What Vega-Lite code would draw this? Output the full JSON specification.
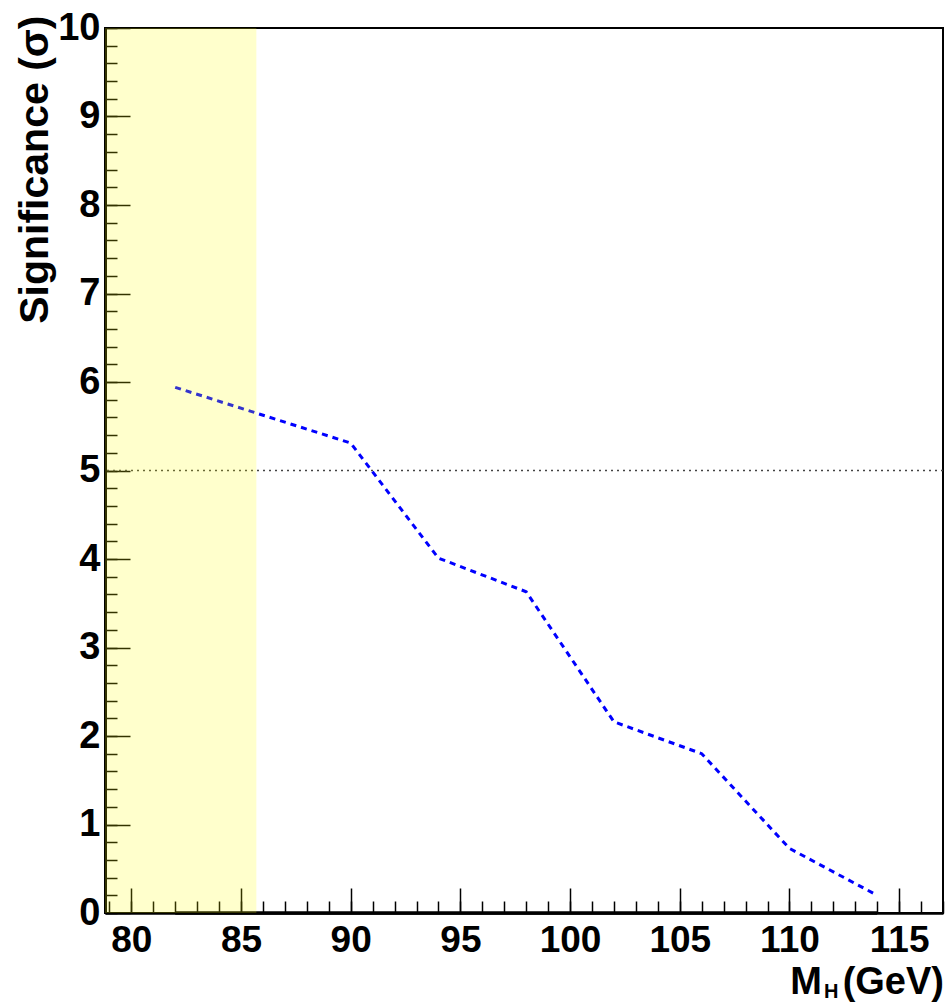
{
  "$schema": "https://vega.github.io/schema/vega-lite/v6.json",
  "width": 838,
  "height": 885,
  "autosize": "none",
  "padding": {"left": 105, "top": 28, "right": 6, "bottom": 90},
  "background": "white",
  "config": {
    "view": {"stroke": "black", "strokeWidth": 2},
    "font": "Liberation Sans",
    "axis": {
      "labelFont": "Liberation Sans",
      "labelFontWeight": "bold",
      "labelFontSize": 38,
      "labelColor": "black",
      "tickColor": "black",
      "domainColor": "black",
      "grid": false,
      "titleFont": "Liberation Sans",
      "titleFontWeight": "bold",
      "titleColor": "black"
    }
  },
  "datasets": {
    "sig": [
      {"mass": 82, "significance": 5.94, "observed": 0},
      {"mass": 90, "significance": 5.31, "observed": 0},
      {"mass": 94, "significance": 4.01, "observed": 0},
      {"mass": 98, "significance": 3.63, "observed": 0},
      {"mass": 102, "significance": 2.16, "observed": 0},
      {"mass": 106, "significance": 1.80, "observed": 0},
      {"mass": 110, "significance": 0.73, "observed": 0},
      {"mass": 114, "significance": 0.20, "observed": 0}
    ],
    "band": [{"lo": 78.8, "hi": 85.7}],
    "threshold": [{"level": 5}]
  },
  "resolve": {"axis": {"x": "independent", "y": "independent"}},
  "layer": [
    {
      "data": {"name": "threshold"},
      "mark": {"type": "rule", "color": "#444444", "strokeDash": [2, 4], "strokeWidth": 1.5},
      "encoding": {
        "y": {"field": "level", "type": "quantitative", "scale": {"domain": [0, 10], "nice": false, "zero": false}, "axis": null}
      }
    },
    {
      "data": {"name": "sig"},
      "mark": {"type": "line", "color": "black", "strokeWidth": 3.5},
      "encoding": {
        "x": {
          "field": "mass", "type": "quantitative",
          "scale": {"domain": [78.8, 117], "nice": false, "zero": false},
          "axis": {"orient": "bottom", "values": [79,80,81,82,83,84,85,86,87,88,89,90,91,92,93,94,95,96,97,98,99,100,101,102,103,104,105,106,107,108,109,110,111,112,113,114,115,116,117],
                   "tickSize": -12, "tickWidth": 1.5, "labels": false, "domain": false, "title": null}
        },
        "y": {
          "field": "observed", "type": "quantitative",
          "scale": {"domain": [0, 10], "nice": false, "zero": false},
          "axis": {"orient": "left", "values": [0,0.2,0.4,0.6,0.8,1,1.2,1.4,1.6,1.8,2,2.2,2.4,2.6,2.8,3,3.2,3.4,3.6,3.8,4,4.2,4.4,4.6,4.8,5,5.2,5.4,5.6,5.8,6,6.2,6.4,6.6,6.8,7,7.2,7.4,7.6,7.8,8,8.2,8.4,8.6,8.8,9,9.2,9.4,9.6,9.8,10],
                   "tickSize": -12, "tickWidth": 1.5, "labels": false, "domain": false, "title": null}
        }
      }
    },
    {
      "data": {"name": "sig"},
      "mark": {"type": "line", "color": "#0000ff", "strokeWidth": 3, "strokeDash": [6, 5]},
      "encoding": {
        "x": {
          "field": "mass", "type": "quantitative",
          "axis": {"orient": "bottom", "values": [80, 85, 90, 95, 100, 105, 110, 115],
                   "tickSize": -25, "tickWidth": 1.5, "labelPadding": 34, "labelFontSize": 37, "domainWidth": 2.5, "title": null}
        },
        "y": {
          "field": "significance", "type": "quantitative",
          "axis": {"orient": "left", "values": [0,1,2,3,4,5,6,7,8,9,10],
                   "tickSize": -25, "tickWidth": 1.5, "labelPadding": 30, "domainWidth": 3,
                   "title": "Significance (σ)", "titleFontSize": 41, "titleX": -70, "titleY": -13,
                   "titleAngle": 270, "titleAlign": "right", "titleBaseline": "middle"}
        }
      }
    },
    {
      "data": {"name": "band"},
      "mark": {"type": "rect", "color": "#ffff00", "opacity": 0.2},
      "encoding": {
        "x": {"field": "lo", "type": "quantitative", "axis": null},
        "x2": {"field": "hi"}
      }
    },
    {
      "data": {"values": [{"part": "(GeV)"}]},
      "mark": {"type": "text", "font": "Liberation Sans", "fontWeight": "bold", "fontSize": 38, "align": "right", "baseline": "alphabetic", "dx": 1, "color": "black"},
      "encoding": {
        "text": {"field": "part"},
        "x": {"datum": 117, "type": "quantitative", "axis": null},
        "y": {"datum": -0.92, "type": "quantitative", "axis": null}
      }
    },
    {
      "data": {"values": [{"part": "M"}]},
      "mark": {"type": "text", "font": "Liberation Sans", "fontWeight": "bold", "fontSize": 38, "align": "right", "baseline": "alphabetic", "dx": -121, "color": "black"},
      "encoding": {
        "text": {"field": "part"},
        "x": {"datum": 117, "type": "quantitative", "axis": null},
        "y": {"datum": -0.92, "type": "quantitative", "axis": null}
      }
    },
    {
      "data": {"values": [{"part": "H"}]},
      "mark": {"type": "text", "font": "Liberation Sans", "fontWeight": "bold", "fontSize": 20, "align": "left", "baseline": "alphabetic", "dx": -119, "dy": 4, "color": "black"},
      "encoding": {
        "text": {"field": "part"},
        "x": {"datum": 117, "type": "quantitative", "axis": null},
        "y": {"datum": -0.92, "type": "quantitative", "axis": null}
      }
    }
  ]
}
